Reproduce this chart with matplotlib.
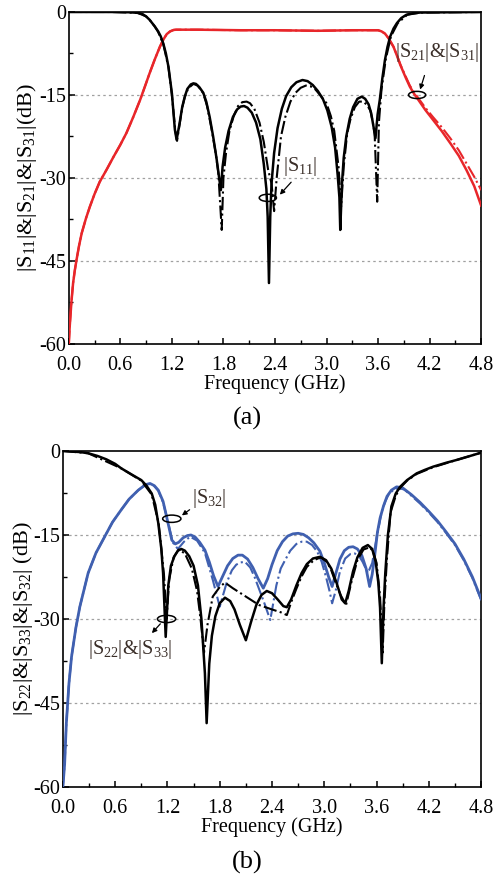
import matplotlib
matplotlib.use("Agg")
import matplotlib.pyplot as plt
from matplotlib.patches import Ellipse
from matplotlib.ticker import MultipleLocator

plt.rcParams['font.family'] = ['Liberation Serif', 'DejaVu Serif']
plt.rcParams['mathtext.fontset'] = 'custom'
plt.rcParams['mathtext.rm'] = 'Liberation Serif'
plt.rcParams['mathtext.it'] = 'Liberation Serif:italic'
plt.rcParams['axes.unicode_minus'] = False

# ---------------- Panel (a) data ----------------
s11_f = [0.0, 0.5, 0.7, 0.8, 0.86, 0.9, 0.94, 0.97, 1.0, 1.04, 1.07, 1.10, 1.13, 1.16, 1.20, 1.235, 1.255, 1.29, 1.32,
         1.35, 1.38, 1.42, 1.45, 1.48, 1.52, 1.565, 1.60, 1.64, 1.68, 1.72, 1.75, 1.77, 1.79, 1.82, 1.86, 1.91, 1.96,
         2.00, 2.04, 2.08, 2.13, 2.18, 2.23, 2.27, 2.30, 2.315, 2.33, 2.345, 2.36, 2.39, 2.43, 2.48, 2.53, 2.59, 2.65,
         2.72, 2.78, 2.84, 2.90, 2.96, 3.01, 3.06, 3.10, 3.13, 3.15, 3.16, 3.18, 3.20, 3.23, 3.27, 3.31, 3.36, 3.41,
         3.45, 3.49, 3.52, 3.55, 3.57, 3.595, 3.62, 3.65, 3.68, 3.71, 3.74, 3.78, 3.82, 3.87, 3.93, 4.0, 4.09, 4.8]
s11_db = [0, 0, -0.05, -0.15, -0.4, -0.8, -1.4, -2.0, -2.6, -3.5, -4.4, -5.7, -7.5, -9.9, -14.7, -21.3, -23.1, -20.1, -17.2,
          -15.3, -13.9, -13.1, -12.9, -13.0, -13.6, -14.6, -16.2, -19, -22.5, -26.5, -30, -32.2, -28, -24.5, -21.5, -19, -17.6,
          -17.1, -17.0, -17.3, -18.2, -20, -23, -27.5, -32, -37, -49, -37, -31, -25.5, -21, -17.5, -15.2, -13.6, -12.7,
          -12.3, -12.5, -13.2, -14.3, -15.8, -17.8, -20.8, -24.5, -29.5, -33.5, -39.4, -31, -26.4, -22.5, -19.3, -17.2, -15.7, -15.3,
          -15.7, -16.7, -18.3, -21, -22.8, -18.5, -15.9, -12, -8.7, -6.3, -4.5, -3.0, -2.0, -1.1, -0.5, -0.25, -0.1, 0]

s11m_f = [0.0, 0.5, 0.8, 0.9, 0.94, 1.0, 1.04, 1.10, 1.16, 1.20, 1.24, 1.26, 1.29, 1.32, 1.35, 1.39, 1.45, 1.50, 1.565,
          1.61, 1.66, 1.71, 1.74, 1.78, 1.80, 1.83, 1.87, 1.92, 1.97, 2.02, 2.07, 2.11, 2.16, 2.22, 2.27, 2.32, 2.36,
          2.39, 2.42, 2.47, 2.52, 2.58, 2.64, 2.70, 2.76, 2.81, 2.87, 2.93, 3.0, 3.05, 3.09, 3.14, 3.17, 3.20, 3.24,
          3.28, 3.33, 3.38, 3.43, 3.47, 3.51, 3.54, 3.56, 3.59, 3.61, 3.64, 3.69, 3.75, 3.83, 3.94, 4.1, 4.8]
s11m_db = [0, 0, -0.15, -0.8, -1.4, -2.6, -3.6, -5.8, -10, -15, -21.5, -23.3, -20.3, -17.3, -15.4, -13.8, -13.0, -13.3, -14.7,
           -17, -21, -25.5, -29, -39.4, -30, -25.5, -21.5, -18.8, -17.0, -16.3, -16.2, -16.5, -17.5, -20, -23.5, -28.5, -31,
           -36, -30, -22.5, -19, -16.2, -14.6, -13.7, -13.3, -13.4, -14.0, -15.1, -16.5, -18.8, -21.5, -28, -35.2, -28, -22,
           -19.3, -17.2, -16.2, -16.2, -16.8, -17.8, -20, -22, -34.3, -20, -14, -8.5, -4.4, -2.0, -0.5, -0.1, 0]

s21_f = [0.0, 0.01, 0.03, 0.05, 0.07, 0.09, 0.12, 0.15, 0.2, 0.245, 0.3, 0.36, 0.44, 0.52, 0.6, 0.67, 0.75, 0.83, 0.89,
         0.94, 1.0, 1.06, 1.10, 1.14, 1.18, 1.22, 1.25, 1.5, 2.0, 2.4, 2.9, 3.3, 3.6, 3.64, 3.68, 3.72, 3.78, 3.82,
         3.86, 3.92, 3.97, 4.02, 4.07, 4.15, 4.24, 4.34, 4.44, 4.54, 4.63, 4.72, 4.8]
s21_db = [-60, -57, -52.5, -49, -46.7, -44.8, -42.2, -40, -37.3, -35.2, -32.9, -30.7, -28.5, -26.2, -24, -21.9, -19, -15.9, -13.3,
          -11.1, -8.6, -6.3, -5.0, -4.0, -3.5, -3.25, -3.2, -3.2, -3.3, -3.3, -3.4, -3.3, -3.3, -3.5, -3.9, -4.7, -6.3, -7.9,
          -9.6, -11.8, -13.5, -14.8, -15.9, -17.7, -19.5, -21.5, -23.7, -26, -28.6, -31.5, -35.0]

s31_f = [0.0, 0.01, 0.03, 0.05, 0.07, 0.09, 0.12, 0.15, 0.2, 0.245, 0.3, 0.36, 0.44, 0.52, 0.6, 0.67, 0.75, 0.83, 0.89,
         0.94, 1.0, 1.06, 1.10, 1.14, 1.18, 1.22, 1.25, 1.5, 2.0, 2.4, 2.9, 3.3, 3.6, 3.64, 3.68, 3.72, 3.78, 3.82,
         3.86, 3.92, 3.97, 4.02, 4.07, 4.15, 4.24, 4.34, 4.44, 4.54, 4.63, 4.72, 4.8]
s31_db = [-60, -57, -52.5, -49, -46.7, -44.8, -42.2, -40, -37.3, -35.2, -32.9, -30.7, -28.5, -26.2, -24, -21.9, -19, -15.9, -13.3,
          -11.1, -8.6, -6.3, -5.0, -4.0, -3.5, -3.25, -3.2, -3.2, -3.3, -3.3, -3.4, -3.3, -3.3, -3.5, -3.9, -4.7, -6.3, -7.8,
          -9.5, -11.6, -13.3, -14.5, -15.6, -17.3, -19.0, -20.8, -22.8, -25.0, -27.4, -29.8, -32.2]

# ---------------- Panel (b) data ----------------
s22_f = [0.0, 0.1, 0.2, 0.29, 0.4, 0.5, 0.6, 0.67, 0.80, 0.90, 0.96, 1.02, 1.06, 1.095, 1.13, 1.15, 1.18, 1.21, 1.24,
         1.28, 1.32, 1.36, 1.40, 1.45, 1.50, 1.55, 1.59, 1.63, 1.65, 1.68, 1.71, 1.75, 1.80, 1.86, 1.92, 1.97, 2.03,
         2.10, 2.16, 2.22, 2.28, 2.34, 2.40, 2.47, 2.53, 2.57, 2.62, 2.68, 2.74, 2.80, 2.87, 2.95, 3.02, 3.08, 3.14,
         3.20, 3.24, 3.28, 3.33, 3.38, 3.44, 3.50, 3.55, 3.59, 3.62, 3.64, 3.66, 3.68, 3.70, 3.73, 3.77, 3.82, 3.87,
         3.95, 4.06, 4.15, 4.25, 4.4, 4.52, 4.65, 4.8]
s22_db = [0, -0.1, -0.2, -0.4, -0.9, -1.5, -2.3, -3.1, -4.3, -5.2, -6.2, -7.6, -9.6, -12.9, -17.5, -21.8, -33.2, -24, -20.5,
          -18.8, -17.8, -17.5, -17.8, -18.8, -20.5, -24, -30, -39.7, -48.6, -38, -33, -29.5, -27.2, -26.2, -26.8, -28.3, -31,
          -33.8, -30.5, -27.5, -25.7, -25.0, -25.4, -26.6, -27.7, -27.9, -26.5, -24, -21.8, -20.2, -19.2, -18.9, -19.5, -21, -23.5,
          -26.5, -27.2, -25, -21.5, -19, -17.3, -16.8, -17.5, -19.8, -23.5, -28, -37.9, -28, -21.8, -15, -9.9, -7.6, -6.4,
          -5.2, -4.0, -3.4, -2.8, -2.1, -1.6, -1.0, -0.3]

s33_f = [0.0, 0.29, 0.67, 0.90, 1.02, 1.10, 1.16, 1.19, 1.22, 1.27, 1.33, 1.40, 1.48, 1.54, 1.58, 1.62, 1.66, 1.72,
         1.80, 1.86, 1.95, 2.1, 2.25, 2.4, 2.50, 2.57, 2.62, 2.68, 2.74, 2.80, 2.88, 2.96, 3.03, 3.08, 3.13, 3.19,
         3.25, 3.31, 3.38, 3.45, 3.52, 3.56, 3.60, 3.64, 3.67, 3.69, 3.72, 3.76, 3.82, 3.87, 3.95, 4.06, 4.25, 4.52, 4.8]
s33_db = [0, -0.4, -3.1, -5.3, -7.8, -13, -22, -30, -23, -19, -17.6, -18.3, -21, -25, -30, -36, -31, -26,
          -24.3, -23.5, -24.5, -26, -27.5, -28.3, -28.8, -29.3, -27, -24.6, -22.4, -20.7, -19.5, -19.0, -19.8, -21.3, -23.5, -25.8,
          -27.5, -23.5, -19.5, -17.6, -17.2, -17.9, -20, -26, -36, -27, -19, -11, -8.0, -6.6, -5.3, -4.1, -2.9, -1.6, -0.3]

s32_f = [0.0, 0.02, 0.04, 0.07, 0.10, 0.15, 0.195, 0.29, 0.38, 0.48, 0.57, 0.67, 0.76, 0.865, 0.95, 1.0, 1.05, 1.095,
         1.15, 1.19, 1.25, 1.29, 1.33, 1.38, 1.43, 1.47, 1.52, 1.57, 1.63, 1.68, 1.73, 1.78, 1.83, 1.89, 1.95, 2.01,
         2.06, 2.12, 2.18, 2.24, 2.30, 2.35, 2.40, 2.46, 2.52, 2.58, 2.64, 2.70, 2.76, 2.82, 2.88, 2.95, 3.00, 3.05,
         3.09, 3.13, 3.18, 3.23, 3.28, 3.33, 3.38, 3.43, 3.48, 3.52, 3.55, 3.58, 3.61, 3.64, 3.68, 3.72, 3.77, 3.83,
         3.90, 4.0, 4.1, 4.2, 4.3, 4.4, 4.5, 4.6, 4.7, 4.8]
s32_db = [-60, -56, -48.6, -41.5, -36.7, -31.5, -27.8, -21.8, -18.2, -15.3, -12.7, -10.5, -8.6, -7.0, -6.0, -5.8, -6.2, -7.0,
          -9.0, -11.7, -15.9, -16.6, -16.3, -15.5, -15.1, -15.0, -15.4, -16.3, -17.7, -19.8, -22.3, -24.2, -22.5, -20.5, -19.2, -18.6,
          -18.6, -19.3, -20.8, -22.8, -24.5, -22.8, -20.3, -17.8, -16.2, -15.2, -14.8, -14.7, -14.9, -15.5, -16.4, -17.9, -20, -22.5,
          -24.2, -22, -19.3, -17.8, -17.2, -17.1, -17.5, -18.6, -21, -24.2, -22, -18.5, -14.5, -12, -9.8, -8.1, -7.0, -6.4,
          -6.6, -7.8, -9.2, -10.8, -12.5, -14.5, -16.6, -19.3, -22.5, -26.4]

s32m_f = [0.0, 0.02, 0.04, 0.07, 0.10, 0.15, 0.195, 0.29, 0.38, 0.48, 0.57, 0.67, 0.76, 0.865, 0.95, 1.0, 1.05, 1.095,
          1.15, 1.20, 1.26, 1.32, 1.39, 1.46, 1.54, 1.63, 1.72, 1.80, 1.88, 1.94, 1.99, 2.04, 2.09, 2.15, 2.2, 2.26,
          2.32, 2.38, 2.45, 2.50, 2.55, 2.61, 2.68, 2.74, 2.80, 2.86, 2.92, 2.97, 3.02, 3.06, 3.09, 3.13, 3.18, 3.24,
          3.30, 3.35, 3.40, 3.44, 3.50, 3.55, 3.60, 3.66, 3.70, 3.74, 3.79, 3.85, 3.92, 4.0, 4.1, 4.2, 4.3, 4.4, 4.5,
          4.6, 4.7, 4.8]
s32m_db = [-60, -56, -48.6, -41.5, -36.7, -31.5, -27.8, -21.8, -18.2, -15.3, -12.7, -10.5, -8.6, -7.0, -6.0, -5.9, -6.3, -7.1,
           -9.2, -12.2, -16.3, -17.5, -16.2, -15.3, -16.0, -18.2, -23, -27.8, -23.5, -21.3, -20.3, -19.9, -19.8, -20.8, -22.5, -25,
           -27.5, -30.2, -24, -21, -19.5, -17.8, -16.6, -16.2, -16.2, -16.8, -18, -19.8, -22.5, -25, -27.2, -25, -21.5, -19.2,
           -18.4, -18.3, -18.8, -19.8, -21.8, -20, -15.5, -10.8, -9.0, -7.7, -7.0, -6.6, -6.9, -8.0, -9.4, -11.0, -12.7, -14.7, -16.8,
           -19.5, -22.7, -26.6]

x_ticks = [0.0, 0.6, 1.2, 1.8, 2.4, 3.0, 3.6, 4.2, 4.8]
y_ticks = [0, -15, -30, -45, -60]

RED = '#e8262a'
BLUE = '#4060b0'
LABEL_C = '#3a2e28'
FS = 14.5

fig = plt.figure(figsize=(4.95, 8.75), dpi=100)
ax1 = fig.add_axes([0.139, 0.607, 0.833, 0.3793])
ax2 = fig.add_axes([0.127, 0.1006, 0.845, 0.384])


def style(ax):
    ax.set_xlim(0, 4.8)
    ax.set_ylim(-60, 0)
    ax.set_xticks(x_ticks)
    ax.set_xticklabels(['%.1f' % v for v in x_ticks])
    ax.set_yticks(y_ticks)
    ax.set_yticklabels(['%d' % v for v in y_ticks])
    ax.xaxis.set_minor_locator(MultipleLocator(0.3))
    ax.yaxis.set_minor_locator(MultipleLocator(7.5))
    ax.tick_params(which='both', direction='in', top=False, right=False, labelsize=FS)
    ax.tick_params(axis='x', pad=9)
    ax.tick_params(axis='y', pad=2)
    ax.tick_params(which='major', length=4.5, width=1.1)
    ax.tick_params(which='minor', length=2.8, width=1.0)
    for sp in ax.spines.values():
        sp.set_linewidth(1.2)
    for yv in [-15, -30, -45]:
        ax.axhline(yv, color='#a0a0a0', lw=0.9, ls=(0, (2, 2.5)), zorder=0)
    ax.set_xlabel('Frequency (GHz)', fontsize=FS, labelpad=-1)


# ---- Panel (a)
style(ax1)
ax1.plot(s31_f, s31_db, color=RED, lw=1.5, ls='-.', zorder=3)
ax1.plot(s21_f, s21_db, color=RED, lw=1.8, zorder=3)
ax1.plot(s11m_f, s11m_db, color='black', lw=1.5, ls='-.', zorder=4)
ax1.plot(s11_f, s11_db, color='black', lw=1.8, zorder=4)
ax1.set_ylabel(r'|S$_{11}$|&|S$_{21}$|&|S$_{31}$|(dB)', fontsize=16, labelpad=0)

ax1.text(2.49, -28.0, r'|S$_{11}$|', fontsize=FS, color=LABEL_C, va='center', ha='left')
ax1.add_patch(Ellipse((2.317, -33.6), 0.2, 1.3, fill=False, lw=1.1, color='black', zorder=6))
ax1.annotate('', xy=(2.435, -33.4), xytext=(2.61, -30.4),
             arrowprops=dict(arrowstyle='-|>', color='black', lw=0.9, mutation_scale=7))
ax1.text(3.80, -7.4, r'|S$_{21}$|&|S$_{31}$|', fontsize=FS, color=LABEL_C, va='center', ha='left')
ax1.add_patch(Ellipse((4.055, -15.0), 0.2, 1.3, fill=False, lw=1.1, color='black', zorder=6))
ax1.annotate('', xy=(4.08, -14.5), xytext=(4.15, -11.0),
             arrowprops=dict(arrowstyle='-|>', color='black', lw=0.9, mutation_scale=7))
fig.text(0.5, 1 - 418 / 875, '(a)', fontsize=19, ha='center', va='center')

# ---- Panel (b)
style(ax2)
ax2.plot(s32m_f, s32m_db, color=BLUE, lw=1.5, ls='-.', zorder=3)
ax2.plot(s32_f, s32_db, color=BLUE, lw=2.0, zorder=3)
ax2.plot(s33_f, s33_db, color='black', lw=1.5, ls='-.', zorder=4)
ax2.plot(s22_f, s22_db, color='black', lw=1.8, zorder=4)
ax2.set_ylabel(r'|S$_{22}$|&|S$_{33}$|&|S$_{32}$| (dB)', fontsize=16, labelpad=-1)

ax2.text(1.48, -8.4, r'|S$_{32}$|', fontsize=FS, color=LABEL_C, va='center', ha='left')
ax2.add_patch(Ellipse((1.25, -12.1), 0.21, 1.3, fill=False, lw=1.1, color='black', zorder=6))
ax2.annotate('', xy=(1.34, -11.8), xytext=(1.48, -10.2),
             arrowprops=dict(arrowstyle='-|>', color='black', lw=0.9, mutation_scale=7))
ax2.text(0.29, -35.5, r'|S$_{22}$|&|S$_{33}$|', fontsize=FS, color=LABEL_C, va='center', ha='left')
ax2.add_patch(Ellipse((1.19, -30.0), 0.21, 1.3, fill=False, lw=1.1, color='black', zorder=6))
ax2.annotate('', xy=(1.0, -32.9), xytext=(1.14, -30.5),
             arrowprops=dict(arrowstyle='-|>', color='black', lw=0.9, mutation_scale=7))
fig.text(0.5, 1 - 862 / 875, '(b)', fontsize=19, ha='center', va='center')

fig.savefig('out.png', dpi=100)
